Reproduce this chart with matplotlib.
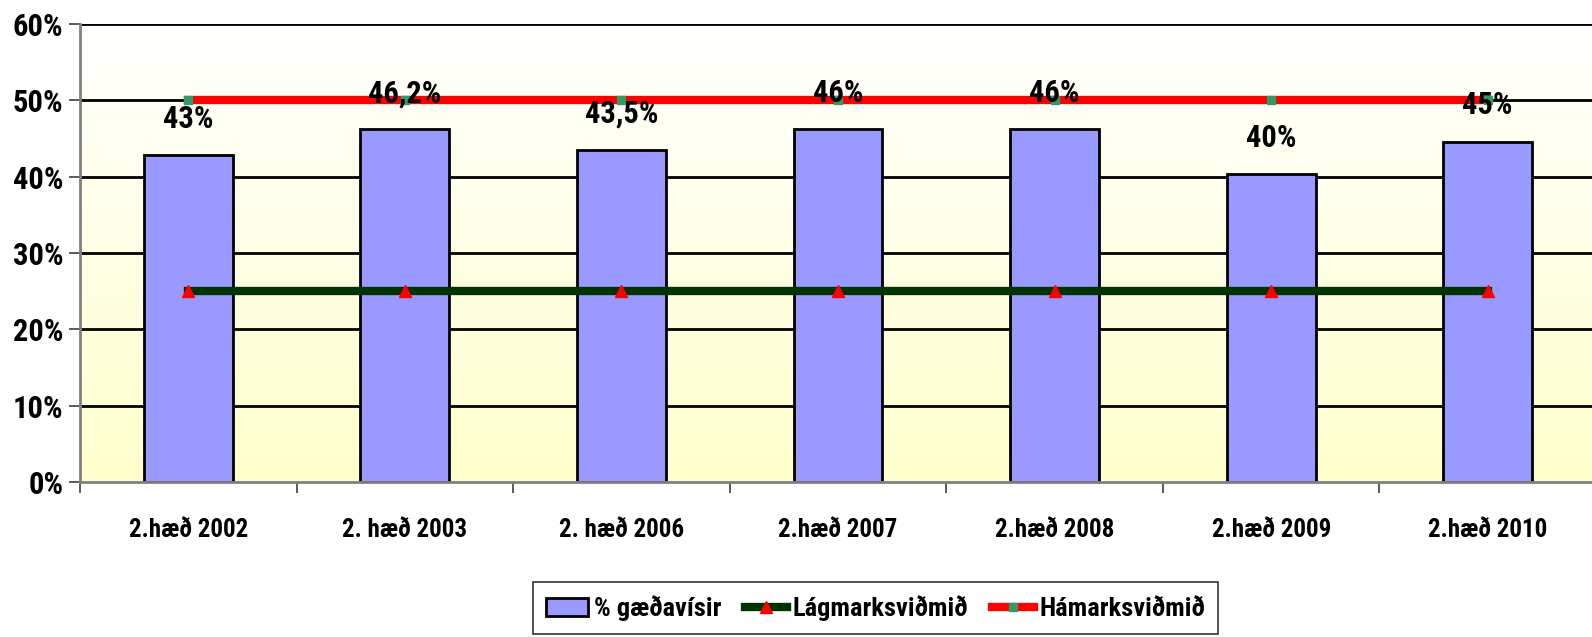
import numpy as np
import matplotlib
matplotlib.use("Agg")
import matplotlib.pyplot as plt
from matplotlib.lines import Line2D
from matplotlib.patches import Patch
from matplotlib.ticker import PercentFormatter

# gögn
flokkar = ["2.hæð 2002", "2. hæð 2003", "2. hæð 2006", "2.hæð 2007",
           "2.hæð 2008", "2.hæð 2009", "2.hæð 2010"]
gaedavisir = [42.8, 46.2, 43.5, 46.2, 46.2, 40.4, 44.6]
merki = ["43%", "46,2%", "43,5%", "46%", "46%", "40%", "45%"]
lagmark = [25, 25, 25, 25, 25, 25, 25]
hamark = [50, 50, 50, 50, 50, 50, 50]

plt.rcParams["font.family"] = ["Liberation Sans Narrow", "Roboto Condensed",
                               "Archivo Narrow", "DejaVu Sans"]
plt.rcParams["font.weight"] = "bold"

fig = plt.figure(figsize=(15.92, 6.37), dpi=100)
ax = fig.add_axes([80 / 1592, 155 / 637, 1516 / 1592, 458 / 637])

x = np.arange(len(flokkar))
n = len(flokkar)

# bakgrunnur: hvítt efst, ljósgult neðst
grad = np.linspace(0, 1, 256).reshape(-1, 1, 1)
top = np.array([1.0, 1.0, 1.0])
bot = np.array([1.0, 1.0, 0.80])
img = top + (bot - top) * grad
ax.imshow(img, extent=(-0.5, n - 0.5, 0, 60), origin="upper", aspect="auto", zorder=0)
ax.set_xlim(-0.5, n - 0.5)
ax.set_ylim(0, 60)

for yv in range(10, 61, 10):
    ax.axhline(yv, color="black", lw=2, zorder=1)

ax.bar(x, gaedavisir, width=0.41, color="#9999ff", edgecolor="black", lw=2, zorder=2)
ax.plot(x, lagmark, color="#003300", lw=6, marker="^", ms=9, mfc="red", mec="red", zorder=3)
ax.plot(x, hamark, color="red", lw=6, marker="s", ms=6, mfc="#339966", mec="#339966", zorder=3)

for xi, v, t in zip(x, gaedavisir, merki):
    ax.annotate(t, (xi, v), xytext=(0, 26), textcoords="offset points",
                ha="center", va="center", fontsize=22, fontweight="bold", zorder=4)

ax.yaxis.set_major_formatter(PercentFormatter(decimals=0))
ax.set_yticks(range(0, 61, 10))
ax.set_xticks(x)
ax.set_xticklabels(flokkar)
ax.set_xticks(np.arange(-0.5, n, 1), minor=True)
ax.tick_params(axis="x", which="major", length=0, pad=26, labelsize=18)
ax.tick_params(axis="x", which="minor", length=8, width=1.2, color="#404040")
ax.tick_params(axis="y", length=8, width=1.2, color="#404040", labelsize=22, pad=4)
for lab in ax.get_xticklabels() + ax.get_yticklabels():
    lab.set_fontweight("bold")

for s in ["top", "right"]:
    ax.spines[s].set_visible(False)
ax.spines["left"].set_color("#808080")
ax.spines["left"].set_linewidth(2)
ax.spines["bottom"].set_color("#808080")
ax.spines["bottom"].set_linewidth(2)

handles = [
    Patch(facecolor="#9999ff", edgecolor="black", lw=2, label="% gæðavísir"),
    Line2D([], [], color="#003300", lw=6, marker="^", ms=9, mfc="red", mec="red", label="Lágmarksviðmið"),
    Line2D([], [], color="red", lw=6, marker="s", ms=6, mfc="#339966", mec="#339966", label="Hámarksviðmið"),
]
leg = fig.legend(handles=handles, loc="upper left", bbox_to_anchor=(533 / 1592, 1 - 582 / 637),
                 ncol=3, frameon=True, fancybox=False, edgecolor="black",
                 prop={"size": 19, "weight": "bold"}, handlelength=1.6,
                 columnspacing=0.9, handletextpad=0.2, borderpad=0.5, borderaxespad=0)
leg.get_frame().set_linewidth(1.2)

fig.savefig("out.png", dpi=100)
